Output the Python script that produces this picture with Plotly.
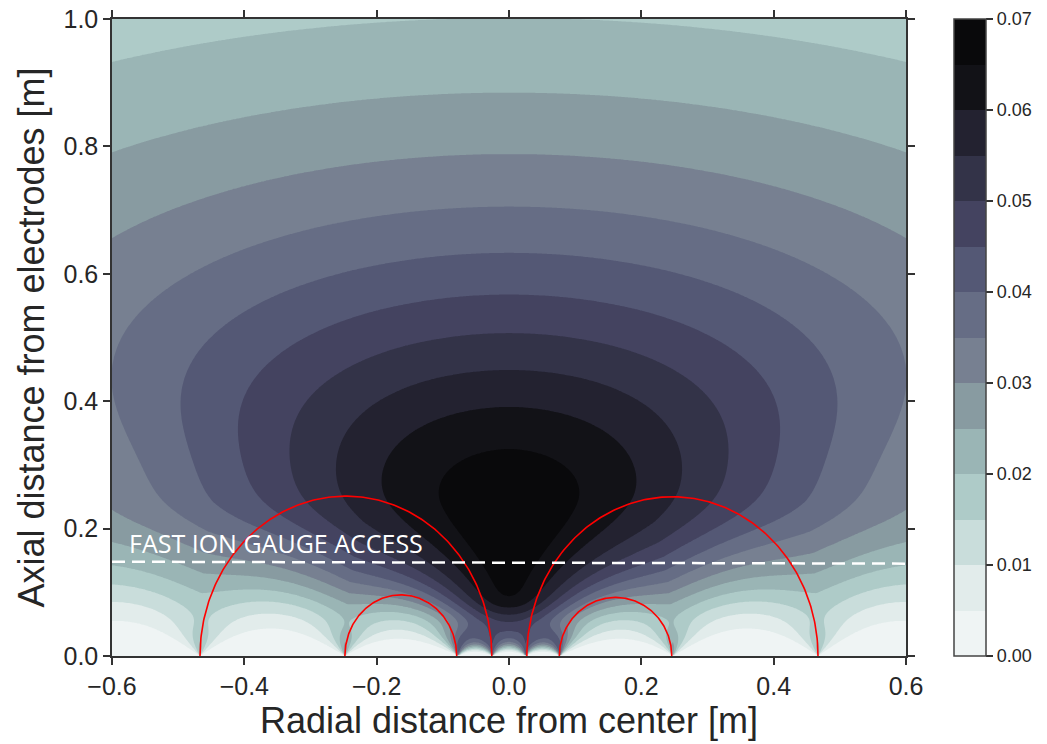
import numpy as np
import plotly.graph_objects as go

# ---- electrode layout (m) ----
electrode_edges = [0.025, 0.077, 0.248, 0.467]   # edge radii, mirrored about the axis
outer_edge = 0.72                                  # outer rim of the last electrode

# ---- field-line arcs: left foot, right foot, apex height (m) ----
arc_left = [-0.467, -0.248, 0.027, 0.076]
arc_right = [-0.026, -0.079, 0.467, 0.246]
arc_apex = [0.251, 0.096, 0.250, 0.092]

# ---- fast ion gauge access line (m) ----
gauge_x = [-0.6, 0.6]
gauge_y = [0.148, 0.145]

# ---- field model parameters ----
peak_value = 0.0685      # maximum on axis
peak_height = 0.235      # height of the maximum
core = 0.15              # rounding of the maximum
decay = 1.95             # axial decay rate above the maximum (1/m)
below_scale = 0.6        # compression of the profile below the maximum
notch_depth, notch_h, notch_w = 0.312, 0.071, 0.05
width_s, width_slope, width_off = 0.04, 1.67, 0.05
width_step, width_mid, width_soft = 0.065, 0.205, 0.055
power_low, power_mid, power_soft = 0.35, 0.235, 0.045
surface_amp, surface_h = 0.023, 0.12
edge_c, edge_n = 0.25, 2.2

levels_start, levels_end, levels_step = 0.0, 0.07, 0.005
cbar_ticks = [0.00, 0.01, 0.02, 0.03, 0.04, 0.05, 0.06, 0.07]
x_ticks = [-0.6, -0.4, -0.2, 0.0, 0.2, 0.4, 0.6]
y_ticks = [0.0, 0.2, 0.4, 0.6, 0.8, 1.0]

band_colors = ["#eff4f4", "#eff4f4", "#d9e6e5", "#c1d8d6", "#a7c7c3", "#97b1b2",
               "#86989f", "#767f90", "#676e86", "#565a77", "#474664", "#37374d",
               "#282738", "#18181f", "#09090b", "#09090b"]

x = np.linspace(-0.6, 0.6, 481)
y = np.linspace(0.0, 1.0, 401)
X, Y = np.meshgrid(x, y)

# strips of the electrode surface between consecutive edges
edges = sorted([-outer_edge] + [-e for e in electrode_edges] + electrode_edges + [outer_edge])
u = np.zeros_like(X)
for a, b in zip(edges[:-1], edges[1:]):
    ang = np.arctan2(Y, X - b) - np.arctan2(Y, X - a)
    u = np.maximum(u, ang / np.pi)
u = np.clip(u, 0.0, 1.0 - 1e-9)
shield = 1.0 / (1.0 + edge_c * (u / (1.0 - u)) ** edge_n)

# axial profile
dy = Y - peak_height
dy = np.where(dy < 0, dy * below_scale, dy)
axial = peak_value * np.exp(-decay * (np.sqrt(dy ** 2 + core ** 2) - core))
axial *= 1.0 - notch_depth * np.exp(-(Y / notch_h) ** 4 - (X / notch_w) ** 2)

# radial spread
width = (np.sqrt(width_s ** 2 + (width_slope * (Y - width_off)) ** 2)
         + width_step * (1.0 + np.tanh((Y - width_mid) / width_soft)))
power = power_low + (1.0 - power_low) / (1.0 + np.exp(-(Y - power_mid) / power_soft))
dome = axial * (1.0 + (X / width) ** 2) ** (-power)

surface = surface_amp * np.exp(-Y / surface_h)
Z = np.round(np.sqrt(dome ** 2 + surface ** 2) * shield, 5)

n = len(band_colors)
colorscale = [[i / (n - 1), c] for i, c in enumerate(band_colors)]

fig = go.Figure()
fig.add_trace(go.Contour(
    x=x, y=y, z=Z,
    autocontour=False,
    contours=dict(start=levels_start, end=levels_end, size=levels_step,
                  coloring="fill", showlines=False),
    colorscale=colorscale, zmin=levels_start, zmax=levels_end,
    line=dict(width=0, smoothing=0),
    hoverinfo="skip",
    colorbar=dict(
        x=1.0605, xanchor="left", y=0.5, yanchor="middle",
        len=1.0, lenmode="fraction", thickness=32, thicknessmode="pixels",
        xpad=0, ypad=0,
        outlinewidth=1.5, outlinecolor="#444444",
        tickvals=cbar_ticks, tickformat=".2f", ticks="outside",
        ticklen=7, tickwidth=1.5, tickcolor="#333333",
        tickfont=dict(family="Liberation Sans, Arial, sans-serif", size=18, color="#262626"),
    ),
))

t = np.linspace(0, np.pi, 200)
for xl, xr, h in zip(arc_left, arc_right, arc_apex):
    xc, half = (xl + xr) / 2, abs(xr - xl) / 2
    fig.add_trace(go.Scatter(x=xc + half * np.cos(t), y=h * np.sin(t), mode="lines",
                             line=dict(color="#ff0000", width=1.6),
                             showlegend=False, hoverinfo="skip"))

fig.add_trace(go.Scatter(x=gauge_x, y=gauge_y, mode="lines",
                         line=dict(color="white", width=2.5, dash="13px,7px"),
                         showlegend=False, hoverinfo="skip"))

fig.add_annotation(x=-0.578, y=0.178, xref="x", yref="y", xanchor="left", yanchor="middle",
                   text="FAST ION GAUGE ACCESS", showarrow=False,
                   font=dict(family="Open Sans", size=25, color="white"))

axis_font = dict(family="Liberation Sans, Arial, sans-serif", size=25, color="#262626")
title_font = dict(family="Liberation Sans, Arial, sans-serif", size=36, color="#262626")
common = dict(ticks="outside", ticklen=7, tickwidth=1.5, tickcolor="#333333",
              showline=True, linecolor="#333333", linewidth=1.5, mirror="ticks",
              showgrid=False, zeroline=False, tickfont=axis_font)

fig.update_xaxes(range=[-0.6, 0.6], tickvals=x_ticks, tickformat=".1f",
                 title=dict(text="Radial distance from center [m]", font=title_font, standoff=6),
                 **common)
fig.update_yaxes(range=[0.0, 1.0], tickvals=y_ticks, tickformat=".1f",
                 title=dict(text="Axial distance from electrodes [m]", font=title_font, standoff=8),
                 **common)

fig.update_layout(width=1047, height=744,
                  margin=dict(l=112, r=141, t=19, b=88, autoexpand=False),
                  paper_bgcolor="white", plot_bgcolor="white", showlegend=False)

fig.write_html("out.html")
